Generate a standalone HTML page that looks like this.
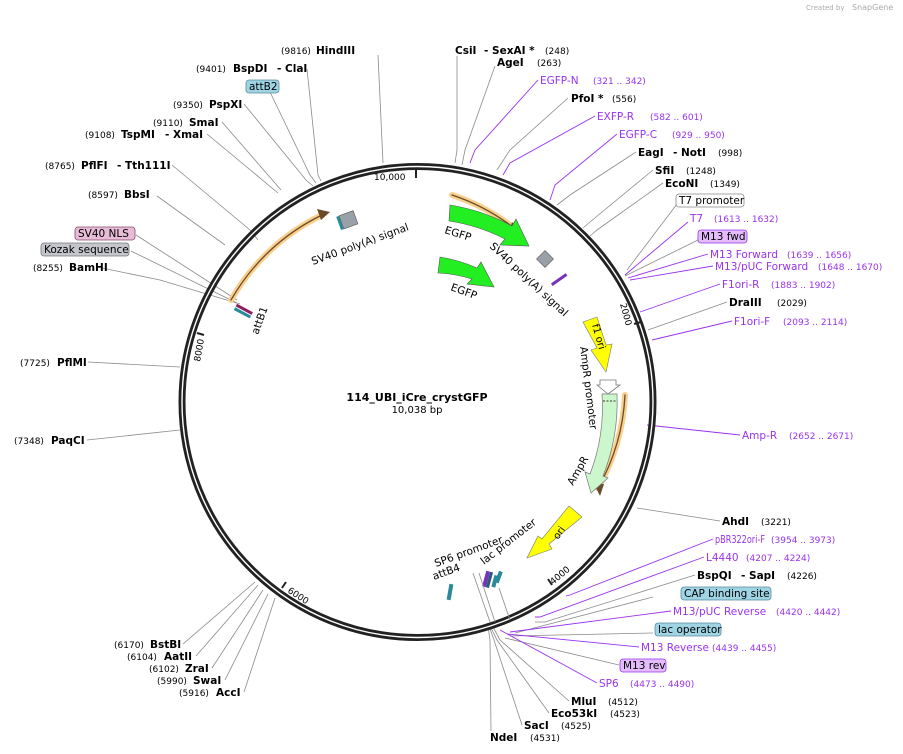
<!DOCTYPE html>
<html><head><meta charset="utf-8"><style>
body{margin:0;background:#fff}
svg{display:block}
text{font-family:"DejaVu Sans","Liberation Sans",sans-serif;font-size:10.5px;fill:#000}
.b{font-weight:bold}
.n{font-size:9px}
.p{fill:#9933ee}
.g{stroke:#8a8a8a;stroke-width:.8;fill:none}
.v{stroke:#9933ee;stroke-width:.9;fill:none}
</style></head><body>
<svg width="903" height="754" viewBox="0 0 903 754">
<text x="806" y="10" style="font-size:7px;fill:#aaa">Created by</text><text x="852" y="10" style="font-size:8px;fill:#aaa">SnapGene</text>

<g class="g">
<polyline points="457,56 457,150 455,163"/>
<polyline points="495,66 465,150 462,165"/>
<polyline points="568,98 510,150 497,170"/>
<polyline points="636,152 570,195 557,205"/>
<polyline points="653,170 590,222 583,228"/>
<polyline points="663,183 597,230 590,236"/>
<polyline points="677,204 627,270"/>
<polyline points="698,240 625,276"/>
<polyline points="727,302 648,330"/>
<polyline points="720,521 650,510 637,508"/>
<polyline points="695,575 545,622 535,622"/>
<polyline points="569,701 500,640 492,625"/>
<polyline points="549,713 497,640 490,626"/>
<polyline points="522,725 494,640 489,626"/>
<polyline points="491,731 490,640 488,626"/>
<polyline points="378,55 383,163"/>
<polyline points="307,69 318,175 321,181"/>
<polyline points="270,92 310,175 316,183"/>
<polyline points="244,104 306,180 313,186"/>
<polyline points="222,122 281,190"/>
<polyline points="207,134 278,193"/>
<polyline points="172,165 250,230 258,240"/>
<polyline points="157,196 225,245"/>
<polyline points="136,235 237,300"/>
<polyline points="131,251 237,303"/>
<polyline points="97,267 160,280 240,304"/>
<polyline points="88,362 180,367"/>
<polyline points="87,440 180,430"/>
<polyline points="183,644 255,582"/>
<polyline points="196,656 258,585"/>
<polyline points="212,668 263,590"/>
<polyline points="225,680 268,594"/>
<polyline points="244,692 275,598"/>
<polyline points="653,597 515,633"/>
<polyline points="653,633 510,636"/>
<polyline points="619,665 505,638"/>
</g>
<g class="v">
<polyline points="538,80 475,150 470,163"/>
<polyline points="595,116 510,163 503,175"/>
<polyline points="617,134 555,185 550,200"/>
<polyline points="688,222 625,275"/>
<polyline points="708,254 628,278"/>
<polyline points="713,266 630,280"/>
<polyline points="720,284 640,312"/>
<polyline points="732,321 652,340"/>
<polyline points="740,435 647,425"/>
<polyline points="713,539 570,595 566,596"/>
<polyline points="704,557 540,617 535,617"/>
<polyline points="671,611 510,632"/>
<polyline points="639,647 507,634"/>
<polyline points="597,683 500,630"/>
</g>

<circle cx="417.5" cy="402" r="235.5" fill="none" stroke="#222" stroke-width="7"/>
<circle cx="417.5" cy="402" r="235.5" fill="none" stroke="#fff" stroke-width="1.4"/>

<g stroke="#222" stroke-width="2">
<line x1="416" y1="170" x2="416" y2="178"/>
<line x1="641" y1="322" x2="634" y2="324"/>
<line x1="552" y1="585" x2="548" y2="579"/>
<line x1="282" y1="588" x2="286" y2="582"/>
<line x1="197" y1="333" x2="204" y2="335"/>
</g>
<text x="374" y="180" class="n">10,000</text>
<text transform="translate(620,304) rotate(75)" class="n">2000</text>
<text transform="translate(553,585) rotate(-40)" class="n">4000</text>
<text transform="translate(287,592) rotate(33)" class="n">6000</text>
<text transform="translate(200,362) rotate(-80)" class="n">8000</text>

<g fill="none" stroke-linecap="round">
<path d="M452,195 A207,207 0 0,1 514,228" stroke="#f9cf8c" stroke-width="6"/>
<path d="M452,195 A207,207 0 0,1 514,228" stroke="#6b4a2a" stroke-width="1.3"/>
<path d="M625,395 A209,209 0 0,1 598,488" stroke="#f9cf8c" stroke-width="6"/>
<path d="M625,395 A209,209 0 0,1 598,488" stroke="#6b4a2a" stroke-width="1.3"/>
<path d="M231,300 A210,210 0 0,1 322,215" stroke="#f9cf8c" stroke-width="6"/>
<path d="M231,300 A210,210 0 0,1 322,215" stroke="#6b4a2a" stroke-width="1.3"/>
</g>
<polygon points="512,222 522,233 509,233" fill="#6b4a2a"/>
<polygon points="594,484 600,496 604,484" fill="#6b4a2a"/>
<polygon points="317,209 330,212 321,220" fill="#6b4a2a"/>

<path d="M450,205 A199,199 0 0,1 512,226 L516,219 L529,246 L500,245 L505,239 A184,184 0 0,0 449,221 Z" fill="#22ee22" stroke="#555" stroke-width=".6"/>
<path d="M440,257 A149,149 0 0,1 477,268 L481,262 L494,287 L467,284 L472,279 A134,134 0 0,0 438,273 Z" fill="#22ee22" stroke="#555" stroke-width=".6"/>
<path d="M583,322 L597,317 L606,345 L612,344 L606,372 L591,350 L597,348 Z" fill="#ffff00" stroke="#777" stroke-width=".6"/>
<path d="M600,380 L616,380 L616,385 L620,385 L608,394 L597,385 L600,385 Z" fill="#fff" stroke="#777" stroke-width=".8"/>
<path d="M602,394 L617,394 A200,200 0 0,1 603,476 L608,478 L591,493 L585,472 L590,474 A186,186 0 0,0 602,394 Z" fill="#ccf7cc" stroke="#777" stroke-width=".7"/>
<line x1="603" y1="401" x2="616" y2="401" stroke="#333" stroke-dasharray="2,1.5"/>
<path d="M569,506 L582,517 L549,544 L552,549 L527,558 L538,536 L542,539 Z" fill="#ffff00" stroke="#777" stroke-width=".6"/>
<g transform="translate(545,259) rotate(45)"><rect x="-6" y="-6" width="12" height="12" fill="#9aa0a8" stroke="#555" stroke-width=".6"/></g>
<g transform="translate(348,220) rotate(-20)"><rect x="-7" y="-7" width="15" height="14" fill="#9aa0a8" stroke="#555" stroke-width=".6"/><rect x="-10" y="-7" width="3" height="14" fill="#2a8a9a"/></g>
<g transform="translate(244,312) rotate(28)"><rect x="-10" y="-4" width="18" height="3" fill="#8a2060"/><rect x="-10" y="0" width="18" height="3" fill="#2a8a9a"/></g>
<g transform="translate(560,279) rotate(-35)"><rect x="-10" y="-1.5" width="18" height="3" fill="#7733bb"/></g>
<g transform="translate(450,592) rotate(-80)"><rect x="-8" y="-2" width="16" height="4" fill="#2a8a9a"/></g>
<g transform="translate(490,580) rotate(-75)"><rect x="-8" y="-6" width="16" height="4" fill="#7733bb"/><rect x="-8" y="-2" width="16" height="3" fill="#2a5a7a"/><rect x="-6" y="3" width="12" height="4" fill="#2a8a9a"/></g>
<g transform="translate(496,576) rotate(-70)"><rect x="-6" y="1" width="12" height="4" fill="#2a8a9a"/></g>
<g class="g"><line x1="473" y1="573" x2="490" y2="622"/><line x1="479" y1="573" x2="495" y2="622"/><line x1="499" y1="588" x2="510" y2="620"/></g>

<text transform="translate(444,233) rotate(17)">EGFP</text>
<text transform="translate(489,247) rotate(43)">SV40 poly(A) signal</text>
<text transform="translate(450,290) rotate(20)">EGFP</text>
<text transform="translate(313,265) rotate(-20)">SV40 poly(A) signal</text>
<text transform="translate(258,335) rotate(-70)">attB1</text>
<text transform="translate(592,325) rotate(74)" style="font-size:10px">f1 ori</text>
<text transform="translate(580,347) rotate(83)">AmpR promoter</text>
<text transform="translate(573,486) rotate(-60)">AmpR</text>
<text transform="translate(558,540) rotate(-55)" style="font-size:10px">ori</text>
<text transform="translate(436,567) rotate(-20)">SP6 promoter</text>
<text transform="translate(434,580) rotate(-20)">attB4</text>
<text transform="translate(484,565) rotate(-38)">lac promoter</text>

<text x="417" y="401" class="b" text-anchor="middle" style="font-size:11px">114_UBI_iCre_crystGFP</text>
<text x="417" y="413" text-anchor="middle" style="font-size:10px">10,038 bp</text>

<text x="455" y="54" class="b">CsiI</text><text x="484" y="54" class="b">- SexAI *</text><text x="545" y="54" class="n">(248)</text>
<text x="497" y="66" class="b">AgeI</text><text x="537" y="66" class="n">(263)</text>
<text x="540" y="84" class="p">EGFP-N</text><text x="593" y="84" class="n p">(321 .. 342)</text>
<text x="571" y="102" class="b">PfoI *</text><text x="612" y="102" class="n">(556)</text>
<text x="597" y="120" class="p">EXFP-R</text><text x="650" y="120" class="n p">(582 .. 601)</text>
<text x="619" y="138" class="p">EGFP-C</text><text x="672" y="138" class="n p">(929 .. 950)</text>
<text x="638" y="156" class="b">EagI</text><text x="673" y="156" class="b">- NotI</text><text x="718" y="156" class="n">(998)</text>
<text x="655" y="174" class="b">SfiI</text><text x="686" y="174" class="n">(1248)</text>
<text x="665" y="187" class="b">EcoNI</text><text x="710" y="187" class="n">(1349)</text>
<rect x="676" y="194" width="68" height="13" rx="3" fill="#fff" stroke="#888" stroke-width=".8"/><text x="679" y="204">T7 promoter</text>
<text x="690" y="222" class="p">T7</text><text x="714" y="222" class="n p">(1613 .. 1632)</text>
<rect x="698" y="230" width="49" height="13" rx="3" fill="#e4bcfb" stroke="#9933ee" stroke-width=".8"/><text x="701" y="240">M13 fwd</text>
<text x="710" y="258" class="p">M13 Forward</text><text x="787" y="258" class="n p">(1639 .. 1656)</text>
<text x="715" y="270" class="p">M13/pUC Forward</text><text x="818" y="270" class="n p">(1648 .. 1670)</text>
<text x="722" y="288" class="p">F1ori-R</text><text x="771" y="288" class="n p">(1883 .. 1902)</text>
<text x="729" y="306" class="b">DraIII</text><text x="777" y="306" class="n">(2029)</text>
<text x="734" y="325" class="p">F1ori-F</text><text x="783" y="325" class="n p">(2093 .. 2114)</text>
<text x="742" y="439" class="p">Amp-R</text><text x="789" y="439" class="n p">(2652 .. 2671)</text>
<text x="722" y="525" class="b">AhdI</text><text x="761" y="525" class="n">(3221)</text>
<text x="715" y="543" class="p" textLength="50" lengthAdjust="spacingAndGlyphs">pBR322ori-F</text><text x="771" y="543" class="n p">(3954 .. 3973)</text>
<text x="706" y="561" class="p">L4440</text><text x="746" y="561" class="n p">(4207 .. 4224)</text>
<text x="697" y="579" class="b">BspQI</text><text x="741" y="579" class="b">- SapI</text><text x="787" y="579" class="n">(4226)</text>
<rect x="681" y="587" width="90" height="13" rx="3" fill="#9fd4e4" stroke="#5a8a9a" stroke-width=".8"/><text x="684" y="597">CAP binding site</text>
<text x="673" y="615" class="p">M13/pUC Reverse</text><text x="776" y="615" class="n p">(4420 .. 4442)</text>
<rect x="655" y="623" width="66" height="13" rx="3" fill="#9fd4e4" stroke="#5a8a9a" stroke-width=".8"/><text x="658" y="633">lac operator</text>
<text x="641" y="651" class="p">M13 Reverse</text><text x="712" y="651" class="n p">(4439 .. 4455)</text>
<rect x="620" y="659" width="46" height="13" rx="3" fill="#e4bcfb" stroke="#9933ee" stroke-width=".8"/><text x="623" y="669">M13 rev</text>
<text x="599" y="687" class="p">SP6</text><text x="630" y="687" class="n p">(4473 .. 4490)</text>
<text x="571" y="705" class="b">MluI</text><text x="608" y="705" class="n">(4512)</text>
<text x="551" y="717" class="b">Eco53kI</text><text x="610" y="717" class="n">(4523)</text>
<text x="524" y="729" class="b">SacI</text><text x="561" y="729" class="n">(4525)</text>
<text x="490" y="741" class="b">NdeI</text><text x="530" y="741" class="n">(4531)</text>

<text x="281" y="54" class="n">(9816)</text><text x="316" y="54" class="b">HindIII</text>
<text x="196" y="72" class="n">(9401)</text><text x="233" y="72" class="b">BspDI</text><text x="277" y="72" class="b">- ClaI</text>
<rect x="246" y="80" width="33" height="13" rx="3" fill="#9fd4e4" stroke="#5a8a9a" stroke-width=".8"/><text x="249" y="90">attB2</text>
<text x="173" y="108" class="n">(9350)</text><text x="209" y="108" class="b">PspXI</text>
<text x="153" y="126" class="n">(9110)</text><text x="189" y="126" class="b">SmaI</text>
<text x="85" y="138" class="n">(9108)</text><text x="121" y="138" class="b">TspMI</text><text x="165" y="138" class="b">- XmaI</text>
<text x="45" y="169" class="n">(8765)</text><text x="81" y="169" class="b">PflFI</text><text x="117" y="169" class="b">- Tth111I</text>
<text x="88" y="198" class="n">(8597)</text><text x="124" y="198" class="b">BbsI</text>
<rect x="75" y="227" width="60" height="13" rx="3" fill="#e6bcd6" stroke="#8a4a6a" stroke-width=".8"/><text x="78" y="237">SV40 NLS</text>
<rect x="41" y="243" width="88" height="13" rx="3" fill="#c4c6cc" stroke="#777" stroke-width=".8"/><text x="44" y="253">Kozak sequence</text>
<text x="33" y="271" class="n">(8255)</text><text x="69" y="271" class="b">BamHI</text>
<text x="20" y="366" class="n">(7725)</text><text x="57" y="366" class="b">PflMI</text>
<text x="14" y="444" class="n">(7348)</text><text x="51" y="444" class="b">PaqCI</text>
<text x="114" y="648" class="n">(6170)</text><text x="150" y="648" class="b">BstBI</text>
<text x="127" y="660" class="n">(6104)</text><text x="164" y="660" class="b">AatII</text>
<text x="149" y="672" class="n">(6102)</text><text x="185" y="672" class="b">ZraI</text>
<text x="157" y="684" class="n">(5990)</text><text x="193" y="684" class="b">SwaI</text>
<text x="179" y="696" class="n">(5916)</text><text x="216" y="696" class="b">AccI</text>
</svg>
</body></html>
